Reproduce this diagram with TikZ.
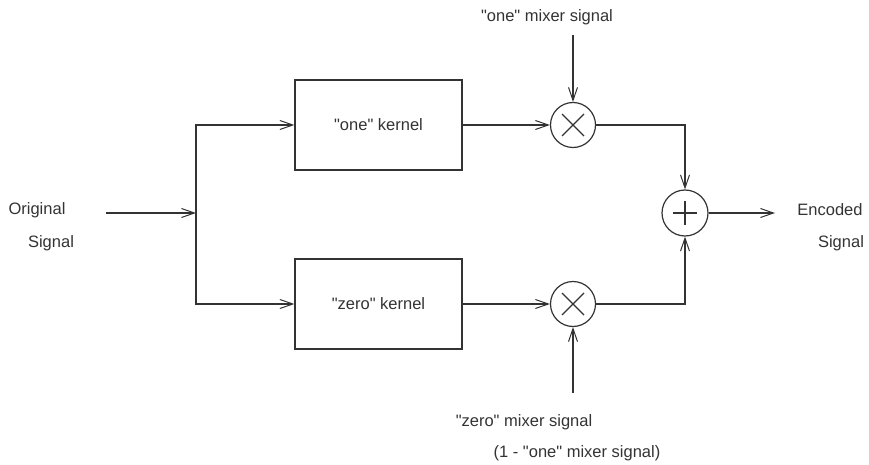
\documentclass[tikz,border=0pt]{standalone}
\usepackage{fontspec}
\setmainfont{Liberation Sans}[Ligatures=TeXOff]
\usetikzlibrary{arrows.meta}
\begin{document}
\begin{tikzpicture}[x=1pt,y=-1pt,
  line width=1.2pt,
  every node/.style={font=\fontsize{16.5}{19}\selectfont, text=black!80},
  wire/.style={draw=black!80, -{Straight Barb[length=13pt,width=9pt,line width=1pt]}},
  kernelbox/.style={draw=black!80, rectangle, minimum width=167pt, minimum height=90pt, inner sep=0pt},
  mixer/.style={draw=black!80, circle, minimum size=45pt, inner sep=0pt,
    path picture={\draw[black!80, line width=1.2pt]
      ([shift={(-11pt,-11pt)}]path picture bounding box.center) -- ([shift={(11pt,11pt)}]path picture bounding box.center)
      ([shift={(-11pt,11pt)}]path picture bounding box.center) -- ([shift={(11pt,-11pt)}]path picture bounding box.center);}},
  adder/.style={draw=black!80, circle, minimum size=46pt, inner sep=0pt,
    path picture={\draw[black!80, line width=1.2pt]
      ([shift={(-12pt,0pt)}]path picture bounding box.center) -- ([shift={(12pt,0pt)}]path picture bounding box.center)
      ([shift={(0pt,-12pt)}]path picture bounding box.center) -- ([shift={(0pt,12pt)}]path picture bounding box.center);}}
]
\useasboundingbox (0,0) rectangle (869,465);

% labels
\node (orig1) at (37,210) {Original};
\node (orig2) at (51,243) {Signal};
\node (enc1) at (830,210) {Encoded};
\node (enc2) at (841,243) {Signal};
\node (onemix) at (547,17) {"one" mixer signal};
\node (zeromix) at (524,422) {"zero" mixer signal};
\node (zeromix2) at (577,453) {(1 - "one" mixer signal)};

% blocks
\node[kernelbox] (k1) at (378.5,125) {"one" kernel};
\node[kernelbox] (k0) at (378.5,304) {"zero" kernel};
\node[mixer] (m1) at (573,125) {};
\node[mixer] (m0) at (573,304) {};
\node[adder] (sum) at (685,213) {};

% coordinates
\coordinate (in) at (106,213);
\coordinate (split) at (196,213);
\coordinate (m1in) at (573,35);
\coordinate (m0in) at (573,393);
\coordinate (out) at (775,213);

% connectors
\draw[wire] (in) -- (split);
\draw[wire] (split) |- (k1.west);
\draw[wire] (split) |- (k0.west);
\draw[wire] (k1.east) -- (m1.west);
\draw[wire] (k0.east) -- (m0.west);
\draw[wire] (m1in) -- (m1.north);
\draw[wire] (m0in) -- (m0.south);
\draw[wire] (m1.east) -| (sum.north);
\draw[wire] (m0.east) -| (sum.south);
\draw[wire] (sum.east) -- (out);
\end{tikzpicture}
\end{document}
